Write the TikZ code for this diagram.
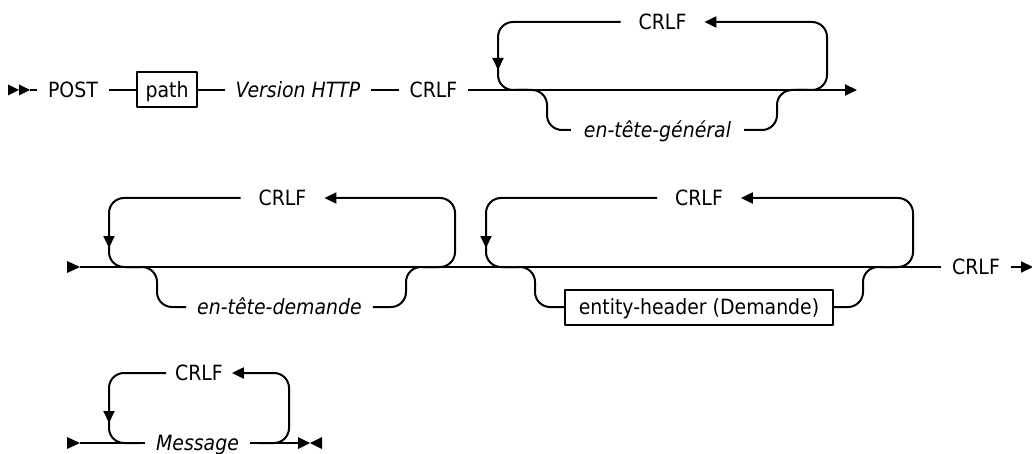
\documentclass[tikz,border=0pt]{standalone}
\usepackage{fontspec}
\setmainfont{DejaVu Sans}[FakeStretch=0.9]
\usetikzlibrary{arrows.meta}
\begin{document}
\begin{tikzpicture}[x=1pt,y=-1pt,
  line width=2pt, line join=round,
  >={Triangle[length=12pt,width=11pt]},
  every node/.style={font=\fontsize{21}{25}\selectfont, text height=15.3pt, text depth=0pt, inner ysep=0pt},
  txt/.style={inner xsep=10pt},
  toplbl/.style={inner xsep=17pt},
  ital/.style={font=\fontsize{21}{25}\selectfont\itshape},
  termbox/.style={draw, inner xsep=0pt, minimum height=35pt},
  rr/.style={rounded corners=15pt},
  tipmark/.style={fill=black, draw=none}
]
\useasboundingbox (0,0) rectangle (1032,454);

% ---------- row 1 ----------
\fill[tipmark] (8,84.5) -- (19,90) -- (8,95.5) -- cycle;
\fill[tipmark] (19,84.5) -- (30,90) -- (19,95.5) -- cycle;
\coordinate (s1) at (30,90);
\node[txt] (post) at (73,90) {POST};
\node[termbox, minimum width=60pt] (pathb) at (167,90) {path};
\node[txt, ital] (ver) at (298,90) {Version HTTP};
\node[txt] (crlf1) at (433.5,90) {CRLF};
\coordinate (e1) at (857,90);
\draw (s1) -- (post);
\draw (post) -- (pathb);
\draw (pathb) -- (ver);
\draw (ver) -- (crlf1);
\draw[->] (crlf1) -- (e1);

\node[toplbl] (crlf1t) at (662.5,22) {CRLF};
\draw[->, rr] (797,90) -- (827,90) -- (827,22) -- (crlf1t);
\draw[->, rr] (crlf1t) -- (498,22) -- (498,70);
\draw[rr] (498,62) -- (498,90) -- (528,90);

\node[txt, ital, inner xsep=12pt] (gen) at (657.5,130) {en-tête-général};
\draw[rr] (517,90) -- (547,90) -- (547,130) -- (gen);
\draw[rr] (gen) -- (777,130) -- (777,90) -- (807,90);

% ---------- row 2 ----------
\fill[tipmark] (67,261) -- (80,267) -- (67,273) -- cycle;
\coordinate (s2) at (80,267);
\node[txt] (crlf2e) at (976,267) {CRLF};
\coordinate (e2) at (1033,267);
\draw (s2) -- (crlf2e);
\draw[->] (crlf2e) -- (e2);

\node[toplbl] (crlfA) at (282.5,198) {CRLF};
\draw[->, rr] (425,267) -- (455,267) -- (455,198) -- (crlfA);
\draw[->, rr] (crlfA) -- (109,198) -- (109,248);
\draw[rr] (109,240) -- (109,267) -- (139,267);
\node[txt, ital, inner xsep=10pt] (dem) at (279.5,307) {en-tête-demande};
\draw[rr] (127,267) -- (157,267) -- (157,307) -- (dem);
\draw[rr] (dem) -- (406,307) -- (406,267) -- (436,267);

\node[toplbl] (crlfB) at (699,198) {CRLF};
\draw[->, rr] (883,267) -- (913,267) -- (913,198) -- (crlfB);
\draw[->, rr] (crlfB) -- (486,198) -- (486,248);
\draw[rr] (486,240) -- (486,267) -- (516,267);
\node[termbox, minimum width=268pt] (ent) at (699,307) {entity-header (Demande)};
\draw[rr] (505,267) -- (535,267) -- (535,307) -- (ent);
\draw[rr] (ent) -- (863,307) -- (863,267) -- (893,267);

% ---------- row 3 ----------
\fill[tipmark] (67,437) -- (80,443) -- (67,449) -- cycle;
\coordinate (s3) at (80,443);
\node[txt, ital] (msg) at (197.5,443) {Message};
\coordinate (e3) at (298,443);
\draw (s3) -- (msg);
\draw (msg) -- (e3);
\fill[tipmark] (298,437) -- (310,443) -- (298,449) -- cycle;
\fill[tipmark] (322,437) -- (310,443) -- (322,449) -- cycle;

\node[txt, inner xsep=8pt] (crlfM) at (199,373) {CRLF};
\draw[->, rr] (259,443) -- (289,443) -- (289,373) -- (crlfM);
\draw[->, rr] (crlfM) -- (109,373) -- (109,423);
\draw[rr] (109,415) -- (109,443) -- (139,443);
\end{tikzpicture}
\end{document}
